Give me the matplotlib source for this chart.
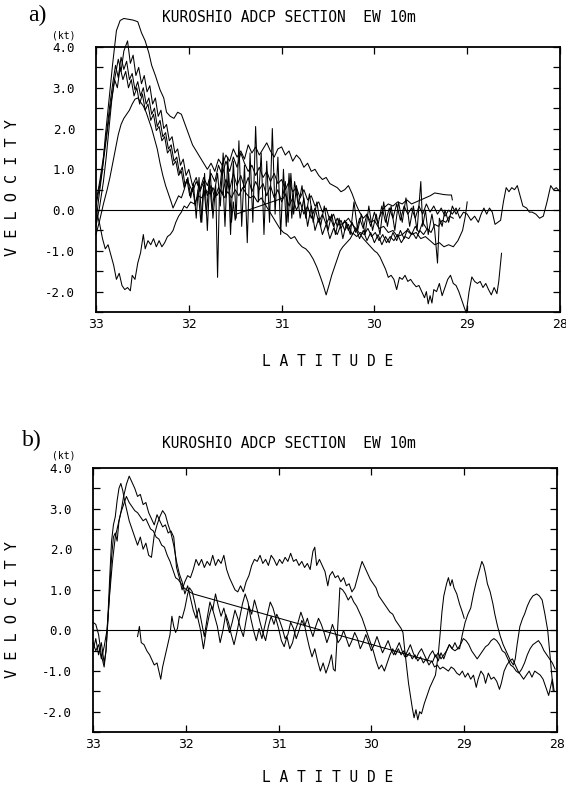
import matplotlib
matplotlib.use("Agg")
import matplotlib.pyplot as plt

# ---- section a) : east-west velocity at 10 m, latitude vs knots ----
a1 = [(33.00, -0.3), (32.97, 0.3), (32.93, 1.0), (32.90, 1.8), (32.86, 2.7), (32.82, 3.6), (32.78, 4.4),
      (32.74, 4.65), (32.70, 4.7), (32.65, 4.68), (32.60, 4.66), (32.55, 4.62), (32.51, 4.35), (32.47, 4.15),
      (32.43, 3.85), (32.40, 3.55), (32.36, 3.3), (32.31, 2.95), (32.27, 2.75), (32.24, 2.4), (32.20, 2.3),
      (32.16, 2.25), (32.12, 2.4), (32.08, 2.35), (32.04, 2.1), (32.00, 1.85), (31.96, 1.6), (31.92, 1.45),
      (31.88, 1.3), (31.84, 1.15), (31.80, 1.0), (31.76, 1.15), (31.72, 0.95), (31.68, 1.25), (31.64, 1.1),
      (31.60, 1.35), (31.56, 1.2), (31.52, 1.5), (31.48, 1.3), (31.44, 1.45), (31.40, 1.25), (31.36, 1.6),
      (31.32, 1.4), (31.28, 1.55), (31.24, 1.35), (31.20, 1.5), (31.16, 1.65), (31.12, 1.45), (31.08, 1.3),
      (31.04, 1.5), (31.00, 1.55), (30.96, 1.35), (30.92, 1.45), (30.88, 1.2), (30.84, 1.35), (30.80, 1.25),
      (30.76, 1.05), (30.72, 1.15), (30.68, 0.95), (30.64, 1.0), (30.60, 0.85), (30.56, 0.75), (30.52, 0.8),
      (30.48, 0.65), (30.44, 0.6), (30.40, 0.55), (30.36, 0.45), (30.32, 0.5), (30.28, 0.6), (30.24, 0.4),
      (30.20, 0.15), (30.16, -0.05), (30.12, -0.2), (30.08, -0.1), (30.04, -0.3), (30.00, -0.25),
      (29.95, -0.45), (29.90, -0.4), (29.85, -0.55), (29.80, -0.5), (29.75, -0.65), (29.70, -0.6),
      (29.65, -0.5), (29.60, -0.6), (29.55, -0.55), (29.50, -0.7), (29.45, -0.65), (29.40, -0.75),
      (29.35, -0.85), (29.30, -0.8), (29.25, -0.9), (29.20, -0.85), (29.15, -0.9), (29.10, -0.75),
      (29.05, -0.5), (29.02, -0.15), (29.00, 0.2)]

a2 = [(33.00, 0.1), (32.96, 0.6), (32.92, 1.2), (32.88, 1.9), (32.84, 2.6), (32.80, 3.2), (32.76, 3.7),
      (32.73, 3.4), (32.70, 3.9), (32.66, 4.15), (32.63, 3.6), (32.60, 3.8), (32.57, 3.3), (32.54, 3.5),
      (32.51, 3.1), (32.48, 3.3), (32.45, 2.9), (32.42, 3.05), (32.39, 2.6), (32.36, 2.75), (32.33, 2.3),
      (32.30, 2.45), (32.27, 2.0), (32.24, 2.1), (32.21, 1.7), (32.18, 1.8), (32.15, 1.4), (32.12, 1.5),
      (32.09, 1.1), (32.06, 1.25), (32.03, 0.85), (32.00, 1.0), (31.96, 0.6), (31.92, 0.8), (31.88, 0.45),
      (31.84, 0.7), (31.80, 0.35), (31.76, 0.6), (31.72, 0.3), (31.68, 0.55), (31.64, 0.4), (31.60, 0.75),
      (31.56, 0.5), (31.52, 0.9), (31.48, 0.6), (31.44, 0.85), (31.40, 0.55), (31.36, 0.8), (31.32, 0.45),
      (31.28, 0.7), (31.24, 0.5), (31.20, 0.65), (31.16, 0.35), (31.12, 0.6), (31.08, 0.3), (31.04, 0.5),
      (31.00, 0.2), (30.96, 0.4), (30.92, 0.1), (30.88, 0.3), (30.84, 0.0), (30.80, 0.2), (30.76, -0.1),
      (30.72, 0.1), (30.68, -0.2), (30.64, 0.05), (30.60, -0.3), (30.56, -0.1), (30.52, -0.35), (30.48, -0.15),
      (30.44, -0.4), (30.40, -0.2), (30.36, -0.45), (30.32, -0.25), (30.28, -0.5), (30.24, -0.3),
      (30.20, -0.55), (30.16, -0.2), (30.12, -0.45), (30.08, -0.1), (30.04, -0.4), (30.00, -0.05),
      (29.96, -0.35), (29.92, 0.1), (29.88, -0.3), (29.84, 0.05), (29.80, -0.2), (29.76, 0.15), (29.72, -0.25),
      (29.68, 0.1), (29.64, -0.1), (29.60, 0.05), (29.56, -0.2), (29.52, 0.1), (29.48, -0.1), (29.44, 0.15),
      (29.40, -0.05), (29.36, 0.1), (29.32, -0.1), (29.28, 0.05), (29.24, -0.15), (29.20, 0.0), (29.16, -0.1),
      (29.12, 0.05), (29.08, -0.2), (29.04, -0.05), (29.00, -0.1), (28.96, -0.25), (28.92, -0.15),
      (28.88, -0.3), (28.85, -0.1), (28.82, 0.05), (28.79, -0.1), (28.76, 0.05), (28.73, -0.05), (28.70, -0.35),
      (28.67, -0.3), (28.64, -0.25), (28.61, 0.2), (28.58, 0.55), (28.55, 0.45), (28.52, 0.55), (28.49, 0.5),
      (28.46, 0.6), (28.43, 0.35), (28.40, 0.1), (28.36, 0.05), (28.33, -0.05), (28.30, -0.05), (28.26, -0.1),
      (28.22, -0.2), (28.18, -0.15), (28.14, 0.2), (28.10, 0.6), (28.07, 0.5), (28.04, 0.55), (28.00, 0.45)]

a3 = [(33.00, 0.0), (32.96, -0.35), (32.93, -0.7), (32.90, -0.95), (32.87, -0.85), (32.84, -1.1), (32.81, -1.35),
      (32.78, -1.7), (32.75, -1.55), (32.72, -1.85), (32.69, -1.95), (32.66, -1.9), (32.63, -1.98), (32.61, -1.6),
      (32.58, -1.7), (32.55, -1.3), (32.52, -1.05), (32.49, -0.6), (32.47, -0.95), (32.44, -0.75), (32.41, -0.85),
      (32.38, -0.7), (32.35, -0.9), (32.32, -0.75), (32.29, -0.9), (32.26, -0.8), (32.23, -0.65), (32.20, -0.6),
      (32.17, -0.5), (32.14, -0.3), (32.11, -0.15), (32.08, -0.05), (32.05, 0.1), (32.02, 0.05), (31.98, 0.2),
      (31.94, 0.15), (31.90, 0.35), (31.86, 0.3), (31.82, 0.5), (31.78, 0.4), (31.74, 0.55), (31.70, 0.35),
      (31.66, 0.5), (31.62, 0.3), (31.58, 0.45), (31.54, 0.3), (31.50, 0.5), (31.46, 0.35), (31.42, 0.55),
      (31.38, 0.4), (31.34, 0.3), (31.30, 0.35), (31.26, 0.2), (31.22, 0.3), (31.18, 0.15), (31.14, 0.0),
      (31.10, -0.15), (31.06, -0.3), (31.02, -0.45), (30.98, -0.55), (30.94, -0.6), (30.90, -0.7), (30.86, -0.65),
      (30.82, -0.8), (30.78, -0.9), (30.74, -0.95), (30.70, -1.05), (30.66, -1.2), (30.62, -1.4), (30.58, -1.65),
      (30.55, -1.85), (30.52, -2.08), (30.49, -1.85), (30.46, -1.6), (30.43, -1.4), (30.40, -1.2), (30.37, -1.0),
      (30.34, -0.9), (30.30, -0.8), (30.26, -0.7), (30.23, -0.57), (30.19, -0.65), (30.15, -0.55), (30.11, -0.6),
      (30.07, -0.45), (30.03, -0.65), (29.99, -0.55), (29.95, -0.75), (29.91, -0.6), (29.87, -0.8), (29.83, -0.65),
      (29.79, -0.75), (29.75, -0.6), (29.71, -0.8), (29.67, -0.65), (29.63, -0.7), (29.59, -0.55), (29.55, -0.7),
      (29.51, -0.5), (29.47, -0.6), (29.43, -0.45), (29.39, -0.55), (29.35, -0.35), (29.31, -0.4), (29.27, -0.25),
      (29.23, -0.3), (29.19, -0.15), (29.15, -0.2)]

a4 = [(33.00, -0.6), (32.96, -0.25), (32.92, 0.15), (32.88, 0.5), (32.85, 0.8), (32.82, 1.15), (32.79, 1.5),
      (32.76, 1.85), (32.73, 2.1), (32.70, 2.25), (32.67, 2.35), (32.64, 2.45), (32.61, 2.6), (32.58, 2.72),
      (32.55, 2.75), (32.52, 2.65), (32.49, 2.55), (32.46, 2.4), (32.43, 2.2), (32.40, 2.0), (32.37, 1.75),
      (32.34, 1.5), (32.31, 1.15), (32.28, 0.85), (32.25, 0.6), (32.22, 0.4), (32.19, 0.2), (32.17, 0.05),
      (32.14, 0.2), (32.11, 0.35), (32.08, 0.3), (32.05, 0.5), (32.02, 0.75), (31.99, 0.6), (31.96, 0.45),
      (31.92, 0.7), (31.88, 0.5), (31.84, 0.8), (31.80, 0.6), (31.76, 0.9), (31.72, 0.7), (31.68, 1.1),
      (31.64, 0.85), (31.60, 1.2), (31.56, 0.95), (31.52, 1.3), (31.48, 1.05), (31.44, 1.4), (31.40, 1.15),
      (31.36, 0.95), (31.32, 1.1), (31.28, 0.85), (31.24, 1.05), (31.20, 0.8), (31.16, 0.95), (31.12, 0.7),
      (31.08, 0.9), (31.04, 0.65), (31.00, 0.75), (30.96, 0.5), (30.92, 0.7), (30.88, 0.45), (30.84, 0.55),
      (30.80, 0.3), (30.76, 0.5), (30.72, 0.25), (30.68, 0.35), (30.64, 0.1), (30.60, 0.2), (30.56, -0.05),
      (30.52, 0.05), (30.48, -0.25), (30.44, -0.1), (30.40, -0.4), (30.36, -0.25), (30.32, -0.5), (30.28, -0.35),
      (30.24, -0.6), (30.20, -0.45), (30.16, -0.7), (30.12, -0.5), (30.08, -0.75), (30.04, -0.55), (30.00, -0.8),
      (29.96, -0.6), (29.92, -0.85), (29.88, -0.65), (29.84, -0.8), (29.80, -0.55), (29.76, -0.75), (29.72, -0.5),
      (29.68, -0.7), (29.64, -0.45), (29.60, -0.6), (29.56, -0.4), (29.52, -0.55), (29.48, -0.3), (29.44, -0.45)]

a5 = [(33.00, 0.2), (32.96, 0.7), (32.92, 1.3), (32.88, 2.0), (32.85, 2.6), (32.82, 3.1), (32.79, 3.55),
      (32.76, 3.25), (32.73, 3.75), (32.70, 3.45), (32.67, 3.65), (32.64, 3.2), (32.61, 3.35), (32.58, 2.95),
      (32.55, 3.15), (32.52, 2.8), (32.49, 3.0), (32.46, 2.6), (32.43, 2.75), (32.40, 2.35), (32.37, 2.5),
      (32.34, 2.05), (32.31, 2.2), (32.28, 1.8), (32.25, 1.9), (32.22, 1.5), (32.19, 1.6), (32.16, 1.2),
      (32.13, 1.3), (32.10, 0.9), (32.07, 1.05), (32.04, 0.6), (32.01, 0.8), (31.98, 0.3), (31.95, 0.65),
      (31.92, -0.2), (31.89, 0.8), (31.86, -0.3), (31.83, 0.9), (31.80, -0.5), (31.77, 1.0), (31.74, -0.2),
      (31.71, 0.6), (31.69, -1.65), (31.67, 0.4), (31.64, 1.1), (31.61, -0.4), (31.58, 1.3), (31.55, -0.6),
      (31.52, 1.2), (31.49, -0.2), (31.46, 1.7), (31.43, -0.4), (31.40, 1.1), (31.37, -0.8), (31.34, 1.4),
      (31.31, -0.3), (31.28, 2.05), (31.25, 0.2), (31.22, 1.4), (31.19, -0.6), (31.16, 1.2), (31.13, -0.3),
      (31.10, 2.0), (31.07, -0.1), (31.04, 1.3), (31.01, -0.6), (30.98, 1.0), (30.95, -0.4), (30.92, 0.9),
      (30.89, -0.2), (30.86, 0.7), (30.82, 0.1), (30.78, 0.6), (30.74, -0.2), (30.70, 0.4), (30.66, -0.3),
      (30.62, 0.2), (30.58, -0.4), (30.54, 0.1), (30.50, -0.5), (30.46, -0.1), (30.42, -0.6), (30.38, -0.2),
      (30.34, -0.7), (30.30, -0.3), (30.26, -0.6), (30.22, 0.2), (30.18, -0.5), (30.14, -0.1), (30.10, -0.6),
      (30.06, 0.1), (30.02, -0.5), (29.98, -0.1), (29.94, -0.6), (29.90, 0.2), (29.86, -0.4), (29.82, 0.1),
      (29.78, -0.5), (29.74, 0.2), (29.70, -0.3), (29.66, 0.3), (29.62, -0.4), (29.58, 0.1), (29.54, -0.5),
      (29.50, 0.7), (29.48, -0.4), (29.45, 0.0), (29.42, -0.6), (29.38, -0.1), (29.35, -0.5), (29.32, -1.3),
      (29.30, -0.2), (29.27, -0.4), (29.24, 0.0), (29.20, -0.3), (29.16, 0.1), (29.12, -0.1), (29.08, 0.05)]

# this pass has a data gap between 31.5N and 31.0N (drawn as a straight line)
a6 = [(33.00, -0.4), (32.96, 0.1), (32.92, 0.7), (32.89, 1.3), (32.86, 2.0), (32.83, 2.7), (32.80, 3.2),
      (32.77, 3.0), (32.74, 3.5), (32.71, 3.2), (32.68, 3.4), (32.65, 3.0), (32.62, 3.2), (32.59, 2.8),
      (32.56, 3.0), (32.53, 2.6), (32.50, 2.85), (32.47, 2.45), (32.44, 2.6), (32.41, 2.2), (32.38, 2.35),
      (32.35, 1.95), (32.32, 2.05), (32.29, 1.7), (32.26, 1.8), (32.23, 1.4), (32.20, 1.5), (32.17, 1.1),
      (32.14, 1.2), (32.11, 0.85), (32.08, 0.95), (32.05, 0.55), (32.02, 0.75), (31.99, 0.35), (31.96, 0.55),
      (31.93, 0.1), (31.90, 0.5), (31.87, -0.3), (31.84, 0.6), (31.81, -0.1), (31.78, 0.75), (31.75, 0.0),
      (31.72, 0.5), (31.69, 0.9), (31.66, 0.1), (31.63, 1.4), (31.60, 0.3), (31.57, 0.9), (31.54, -0.3),
      (31.52, 0.2), (31.50, -0.25), (31.49, -0.1), (30.99, 0.29), (30.96, 0.7), (30.93, -0.3), (30.90, 0.9),
      (30.87, -0.1), (30.84, 0.6), (30.80, -0.2), (30.76, 0.3), (30.72, -0.4), (30.68, 0.1), (30.64, -0.5),
      (30.60, -0.2), (30.56, -0.6), (30.52, -0.35), (30.48, -0.7), (30.44, -0.45), (30.40, -0.6), (30.36, -0.35),
      (30.32, -0.3), (30.28, -0.2), (30.24, -0.35), (30.20, -0.45), (30.16, -0.57), (30.12, -0.7), (30.08, -0.8),
      (30.04, -0.9), (30.00, -1.0), (29.97, -1.05), (29.94, -1.15), (29.91, -1.3), (29.88, -1.45), (29.85, -1.65),
      (29.82, -1.6), (29.79, -1.7), (29.76, -1.95), (29.73, -1.65), (29.70, -1.7), (29.67, -1.6), (29.64, -1.75),
      (29.61, -1.7), (29.58, -1.8), (29.55, -1.88), (29.52, -1.85), (29.49, -2.0), (29.46, -2.15), (29.44, -2.0),
      (29.42, -2.3), (29.40, -2.1), (29.38, -2.28), (29.36, -1.95), (29.33, -2.0), (29.30, -1.8), (29.27, -2.1),
      (29.24, -1.9), (29.21, -1.7), (29.18, -1.6), (29.15, -1.8), (29.12, -1.85), (29.09, -2.0), (29.06, -2.2),
      (29.03, -2.4), (29.01, -2.52), (28.98, -2.0), (28.95, -1.64), (28.92, -1.75), (28.89, -1.8), (28.86, -1.75),
      (28.83, -1.9), (28.80, -1.8), (28.77, -1.95), (28.74, -2.08), (28.71, -1.9), (28.68, -2.05), (28.66, -1.75),
      (28.64, -1.3), (28.63, -1.06)]

a7 = [(29.95, -0.2), (29.90, 0.05), (29.85, 0.15), (29.80, 0.1), (29.75, 0.2), (29.70, 0.15), (29.65, 0.25),
      (29.60, 0.15), (29.55, 0.2), (29.50, 0.25), (29.45, 0.3), (29.40, 0.35), (29.35, 0.42), (29.30, 0.4),
      (29.25, 0.38), (29.20, 0.37), (29.17, 0.37), (29.16, 0.25)]

# ---- section b) ----
b1 = [(33.00, -0.3), (32.97, -0.5), (32.94, -0.35), (32.91, -0.7), (32.88, -0.4), (32.85, 0.0), (32.82, 0.9),
      (32.79, 1.7), (32.76, 2.3), (32.73, 2.6), (32.70, 2.9), (32.67, 3.3), (32.64, 3.6), (32.61, 3.8),
      (32.58, 3.65), (32.55, 3.5), (32.52, 3.3), (32.49, 3.35), (32.46, 3.1), (32.43, 3.15), (32.40, 2.9),
      (32.37, 2.75), (32.34, 2.6), (32.31, 2.85), (32.28, 2.7), (32.25, 2.55), (32.22, 2.6), (32.19, 2.4),
      (32.16, 2.45), (32.13, 2.3), (32.10, 1.55), (32.07, 1.3), (32.04, 1.0), (32.01, 1.2), (31.98, 1.35),
      (31.95, 1.3), (31.92, 1.5), (31.89, 1.75), (31.86, 1.6), (31.83, 1.75), (31.80, 1.55), (31.77, 1.7),
      (31.74, 1.6), (31.71, 1.85), (31.68, 1.6), (31.65, 1.75), (31.62, 1.65), (31.59, 1.85), (31.56, 1.5),
      (31.53, 1.3), (31.50, 1.15), (31.47, 1.0), (31.44, 0.95), (31.41, 1.1), (31.38, 0.95), (31.35, 1.2),
      (31.32, 1.35), (31.29, 1.6), (31.26, 1.75), (31.23, 1.7), (31.20, 1.85), (31.17, 1.65), (31.14, 1.75),
      (31.11, 1.6), (31.08, 1.85), (31.05, 1.75), (31.02, 1.6), (30.99, 1.75), (30.96, 1.65), (30.93, 1.8),
      (30.90, 1.7), (30.87, 1.9), (30.84, 1.7), (30.81, 1.75), (30.78, 1.6), (30.75, 1.7), (30.72, 1.55),
      (30.69, 1.65), (30.66, 1.5), (30.63, 1.95), (30.61, 2.05), (30.59, 1.6), (30.56, 1.75), (30.53, 1.6),
      (30.50, 1.45), (30.47, 1.1), (30.45, 1.35), (30.42, 1.45), (30.39, 1.3), (30.36, 1.35), (30.33, 1.2),
      (30.30, 1.3), (30.27, 1.1), (30.24, 1.15), (30.21, 0.95), (30.18, 1.05), (30.15, 1.3), (30.12, 1.55),
      (30.10, 1.7), (30.07, 1.55), (30.04, 1.4), (30.01, 1.25), (29.98, 1.15), (29.95, 1.05), (29.92, 0.85),
      (29.89, 0.75), (29.86, 0.65), (29.83, 0.55), (29.80, 0.45), (29.77, 0.4), (29.74, 0.25), (29.71, 0.15),
      (29.68, 0.05), (29.66, -0.05), (29.64, -0.5), (29.62, -0.9), (29.60, -1.3), (29.58, -1.6), (29.56, -1.9),
      (29.54, -2.15), (29.52, -1.95), (29.50, -2.2), (29.48, -2.0), (29.46, -2.05), (29.43, -1.8), (29.40, -1.6),
      (29.37, -1.4), (29.34, -1.25), (29.31, -1.1), (29.28, -0.6), (29.26, -0.1), (29.24, 0.45), (29.22, 0.85),
      (29.19, 1.15), (29.17, 1.3), (29.15, 1.1), (29.13, 1.25), (29.11, 1.05), (29.08, 0.9), (29.05, 0.65),
      (29.02, 0.45), (29.00, 0.3)]

b2 = [(33.00, 0.2), (32.97, 0.15), (32.94, -0.1), (32.91, -0.6), (32.88, -0.9), (32.86, -0.5), (32.84, 0.3),
      (32.82, 1.3), (32.80, 2.2), (32.78, 2.6), (32.76, 2.8), (32.74, 3.2), (32.72, 3.5), (32.70, 3.62),
      (32.68, 3.45), (32.66, 3.2), (32.64, 3.0), (32.61, 2.7), (32.58, 2.5), (32.55, 2.3), (32.52, 2.1),
      (32.49, 2.3), (32.46, 2.0), (32.43, 2.15), (32.40, 1.85), (32.37, 1.8), (32.34, 2.35), (32.31, 2.6),
      (32.28, 2.8), (32.25, 2.95), (32.22, 2.85), (32.19, 2.6), (32.16, 2.4), (32.13, 2.1), (32.10, 1.7),
      (32.07, 1.4), (32.04, 1.2), (32.01, 0.9), (31.98, 1.1), (31.95, 0.8), (31.92, 0.5), (31.89, 0.3),
      (31.86, 0.55), (31.83, 0.2), (31.80, -0.15), (31.77, 0.3), (31.74, 0.7), (31.71, 0.5), (31.68, 0.9),
      (31.65, 0.6), (31.62, 0.35), (31.59, 0.55), (31.56, 0.25), (31.53, -0.05), (31.50, 0.2), (31.47, 0.5),
      (31.44, 0.3), (31.41, 0.05), (31.38, -0.15), (31.35, 0.25), (31.32, 0.6), (31.29, 0.4), (31.26, 0.75),
      (31.23, 0.5), (31.20, 0.2), (31.17, -0.05), (31.14, -0.25), (31.11, 0.1), (31.08, 0.35), (31.05, 0.15),
      (31.02, 0.4), (30.99, 0.25), (30.96, 0.05), (30.93, -0.2), (30.90, -0.1), (30.87, 0.2), (30.84, 0.05),
      (30.81, -0.2), (30.78, 0.0), (30.75, 0.25), (30.72, 0.1), (30.69, 0.3), (30.66, 0.05), (30.63, -0.15),
      (30.60, 0.1), (30.57, 0.3), (30.54, 0.15), (30.51, -0.05), (30.48, -0.3), (30.45, -0.1), (30.42, 0.15),
      (30.39, -0.05), (30.36, -0.3), (30.33, -0.2), (30.30, 0.0), (30.27, -0.2), (30.24, -0.4), (30.21, -0.25),
      (30.18, -0.05), (30.15, -0.2), (30.12, -0.45), (30.09, -0.3), (30.06, -0.1), (30.03, -0.3), (30.00, -0.5),
      (29.97, -0.35), (29.94, -0.15), (29.91, -0.35), (29.88, -0.55), (29.85, -0.4), (29.82, -0.25),
      (29.79, -0.45), (29.76, -0.6), (29.73, -0.45), (29.70, -0.3), (29.67, -0.5), (29.64, -0.65), (29.61, -0.5),
      (29.58, -0.35), (29.55, -0.55), (29.52, -0.7), (29.49, -0.55), (29.46, -0.45), (29.43, -0.6), (29.40, -0.75),
      (29.37, -0.6), (29.34, -0.5), (29.31, -0.65), (29.28, -0.55), (29.25, -0.7), (29.22, -0.6), (29.19, -0.5),
      (29.16, -0.35), (29.13, -0.45), (29.10, -0.5), (29.07, -0.45), (29.05, -0.45), (29.02, -0.1), (28.99, 0.2),
      (28.96, 0.4), (28.93, 0.55), (28.90, 0.9), (28.87, 1.2), (28.84, 1.45), (28.81, 1.7), (28.79, 1.6),
      (28.77, 1.4), (28.75, 1.15), (28.72, 0.95), (28.69, 0.65), (28.67, 0.4), (28.64, 0.1), (28.61, -0.15),
      (28.58, -0.35), (28.55, -0.5), (28.52, -0.65), (28.50, -0.75), (28.47, -0.85), (28.45, -0.7), (28.43, -0.35),
      (28.40, 0.1), (28.37, 0.3), (28.35, 0.4), (28.32, 0.6), (28.29, 0.75), (28.26, 0.85), (28.22, 0.9),
      (28.19, 0.85), (28.16, 0.75), (28.13, 0.4), (28.10, 0.0), (28.08, -0.5), (28.06, -1.0), (28.04, -1.5)]

# gap from 31.9N to 29.3N bridged by a straight segment
b3 = [(33.00, -0.5), (32.97, -0.2), (32.94, -0.6), (32.91, -0.3), (32.88, -0.8), (32.86, -0.5), (32.84, 0.2),
      (32.82, 1.0), (32.80, 1.8), (32.78, 2.3), (32.76, 2.4), (32.74, 2.2), (32.72, 2.7), (32.70, 2.9),
      (32.67, 3.1), (32.64, 3.3), (32.61, 3.15), (32.58, 3.05), (32.55, 2.95), (32.52, 2.9), (32.49, 2.8),
      (32.46, 2.7), (32.43, 2.75), (32.41, 2.65), (32.38, 2.5), (32.35, 2.45), (32.32, 2.3), (32.29, 2.25),
      (32.26, 2.1), (32.23, 2.05), (32.20, 1.85), (32.17, 1.7), (32.14, 1.5), (32.11, 1.3), (32.08, 1.25),
      (32.05, 1.15), (32.02, 1.05), (31.99, 1.0), (31.96, 0.95), (31.92, 0.9), (29.34, -0.77), (29.31, -0.6),
      (29.28, -0.75), (29.25, -0.55), (29.22, -0.7), (29.19, -0.5), (29.16, -0.35), (29.13, -0.45), (29.10, -0.3),
      (29.07, -0.45), (29.04, -0.35), (29.01, -0.2), (28.98, -0.25), (28.95, -0.35), (28.92, -0.5), (28.89, -0.6),
      (28.86, -0.7), (28.83, -0.6), (28.80, -0.5), (28.77, -0.4), (28.74, -0.35), (28.71, -0.25), (28.68, -0.2),
      (28.65, -0.25), (28.62, -0.35), (28.59, -0.5), (28.56, -0.55), (28.53, -0.7), (28.50, -0.85), (28.47, -0.9),
      (28.44, -1.0), (28.41, -1.05), (28.38, -0.95), (28.35, -0.8), (28.32, -0.6), (28.29, -0.45), (28.26, -0.35),
      (28.23, -0.3), (28.20, -0.25), (28.17, -0.35), (28.14, -0.5), (28.11, -0.6), (28.08, -0.7), (28.05, -0.8),
      (28.02, -0.95)]

b4 = [(32.52, -0.15), (32.50, 0.1), (32.48, -0.3), (32.45, -0.35), (32.42, -0.5), (32.39, -0.6), (32.37, -0.7),
      (32.34, -0.85), (32.31, -0.8), (32.29, -1.0), (32.27, -1.2), (32.25, -0.9), (32.22, -0.6), (32.20, -0.4),
      (32.17, -0.1), (32.15, 0.35), (32.13, 0.1), (32.11, -0.05), (32.09, 0.05), (32.07, 0.35), (32.04, 0.3),
      (32.01, 0.55), (31.98, 0.9), (31.96, 1.05), (31.93, 0.95), (31.90, 0.65), (31.87, 0.3), (31.84, 0.0),
      (31.81, -0.45), (31.78, 0.0), (31.75, 0.35), (31.72, 0.6), (31.69, 0.35), (31.66, 0.1), (31.63, -0.3),
      (31.60, 0.0), (31.57, 0.4), (31.54, 0.2), (31.51, -0.1), (31.48, -0.35), (31.45, -0.05), (31.42, 0.3),
      (31.39, 0.65), (31.36, 0.9), (31.33, 0.7), (31.30, 0.3), (31.27, 0.0), (31.24, -0.25), (31.21, 0.05),
      (31.18, -0.2), (31.15, 0.1), (31.12, 0.4), (31.09, 0.7), (31.06, 0.55), (31.03, 0.3), (31.00, 0.05),
      (30.97, -0.25), (30.94, -0.4), (30.91, -0.15), (30.88, -0.45), (30.85, -0.3), (30.82, 0.0), (30.79, 0.2),
      (30.76, 0.45), (30.73, 0.25), (30.70, -0.1), (30.67, -0.4), (30.64, -0.65), (30.61, -0.45), (30.58, -0.75),
      (30.55, -1.0), (30.52, -0.8), (30.49, -1.05), (30.46, -0.85), (30.43, -0.6), (30.41, -0.95), (30.39, -1.0),
      (30.37, -0.2), (30.35, 0.6), (30.34, 1.05), (30.31, 1.0), (30.28, 0.9), (30.25, 0.75), (30.22, 0.85),
      (30.19, 0.7), (30.16, 0.6), (30.13, 0.45), (30.10, 0.3), (30.07, 0.1), (30.04, -0.1), (30.01, -0.3),
      (29.98, -0.5), (29.95, -0.75), (29.92, -0.95), (29.89, -0.85), (29.86, -1.0), (29.83, -0.8), (29.80, -0.6),
      (29.77, -0.45), (29.74, -0.6), (29.71, -0.45), (29.68, -0.6), (29.65, -0.5), (29.62, -0.65), (29.59, -0.55),
      (29.56, -0.7), (29.53, -0.6), (29.50, -0.75), (29.47, -0.65), (29.44, -0.8), (29.41, -0.7), (29.38, -0.85),
      (29.35, -0.75), (29.32, -0.9), (29.29, -0.85), (29.26, -0.95), (29.23, -0.9), (29.20, -0.95), (29.17, -1.0),
      (29.14, -0.9), (29.11, -0.95), (29.08, -1.05), (29.05, -1.1), (29.02, -1.0), (28.99, -1.15), (28.96, -1.05),
      (28.93, -1.2), (28.90, -1.1), (28.87, -1.4), (28.85, -1.2), (28.82, -1.0), (28.79, -1.1), (28.77, -1.3),
      (28.74, -1.05), (28.71, -1.2), (28.68, -1.15), (28.65, -1.25), (28.62, -1.45), (28.60, -1.3), (28.57, -1.0),
      (28.54, -0.85), (28.51, -0.75), (28.48, -0.7), (28.45, -0.85), (28.42, -1.0), (28.39, -1.1), (28.36, -1.2),
      (28.33, -1.1), (28.30, -1.0), (28.27, -1.15), (28.24, -1.0), (28.21, -1.05), (28.18, -1.1), (28.15, -1.2),
      (28.12, -1.4), (28.09, -1.6), (28.07, -1.4), (28.05, -1.2), (28.03, -1.5)]

lat_ticks = [33, 32, 31, 30, 29, 28]
vel_ticks = [-2.0, -1.0, 0.0, 1.0, 2.0, 3.0, 4.0]
vel_minor = [-2.5, -1.5, -0.5, 0.5, 1.5, 2.5, 3.5]
title = "KUROSHIO ADCP SECTION  EW 10m"

W, H = 566, 787
mono = "DejaVu Sans Mono"

fig = plt.figure(figsize=(W / 100, H / 100), dpi=100)


def px(x0, y0, x1, y1):
    # pixel box (left, top, right, bottom) -> figure fraction rect
    return [x0 / W, 1 - y1 / H, (x1 - x0) / W, (y1 - y0) / H]


def section(rect, traces, tag, tag_xy, title_y, kt_y, ylab_y, xlab_y):
    ax = fig.add_axes(rect)
    ax.axhline(0, color="black", lw=0.8, zorder=1)
    for tr in traces:
        lat, vel = zip(*tr)
        ax.plot(lat, vel, color="black", lw=0.75, clip_on=False, zorder=2)
    ax.set_xlim(33, 28)
    ax.set_ylim(-2.5, 4.0)
    ax.set_xticks(lat_ticks)
    ax.set_xticklabels([str(v) for v in lat_ticks], fontsize=9, family="DejaVu Sans")
    ax.set_yticks(vel_ticks)
    ax.set_yticklabels([f"{v:.1f}" for v in vel_ticks], fontsize=9, family=mono)
    ax.set_yticks(vel_minor, minor=True)
    ax.tick_params(axis="both", which="both", direction="in", length=5, width=0.9,
                   top=True, right=True)
    ax.tick_params(axis="y", which="major", pad=15)
    ax.tick_params(axis="x", which="major", pad=4)
    for s in ax.spines.values():
        s.set_linewidth(1.3)

    fig.text(tag_xy[0] / W, 1 - tag_xy[1] / H, tag, fontsize=17, family="Liberation Serif",
             ha="center", va="center")
    fig.text(289 / W, 1 - title_y / H, title, fontsize=10.5, family=mono, ha="center", va="center")
    fig.text(64 / W, 1 - kt_y / H, "(kt)", fontsize=7, family=mono, ha="center", va="center")
    fig.text(13 / W, 1 - ylab_y / H, "V E L O C I T Y", fontsize=11, family=mono,
             rotation=90, ha="center", va="center")
    fig.text(328 / W, 1 - xlab_y / H, "L A T I T U D E", fontsize=10.5, family=mono,
             ha="center", va="center")
    return ax


section(px(96, 47, 560, 312), [a1, a2, a3, a4, a5, a6, a7], "a)", (37, 15), 18, 35, 188, 361)
section(px(93, 468, 557, 732), [b1, b2, b3, b4], "b)", (32, 440), 444, 456, 610, 778)

fig.savefig("out.png", dpi=100)
